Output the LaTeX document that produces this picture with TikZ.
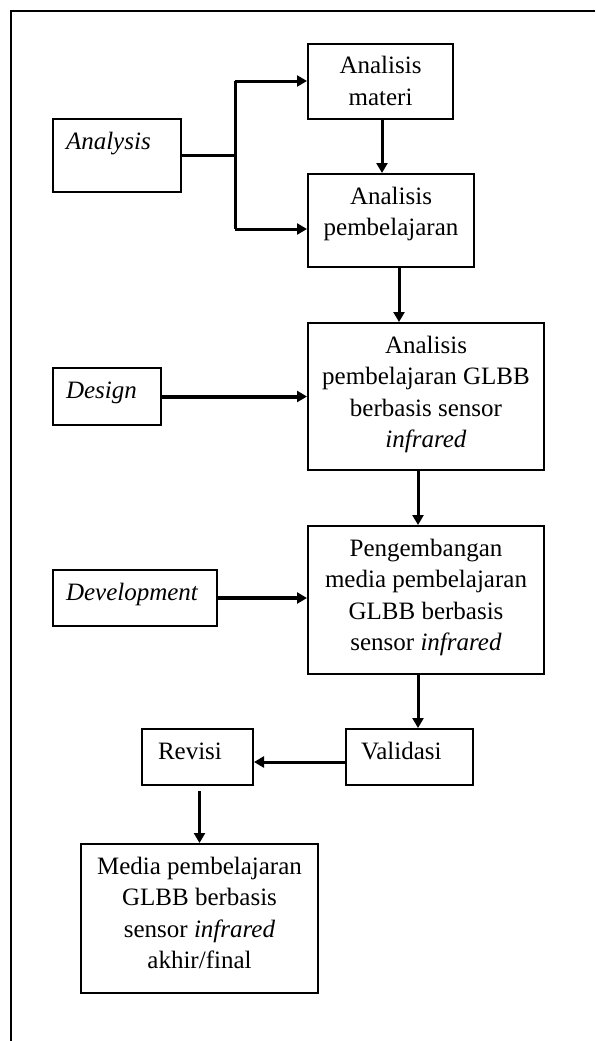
\documentclass[tikz,border=0pt]{standalone}
\usepackage{fontspec}
\setmainfont{Liberation Serif}
\usetikzlibrary{arrows.meta}
\newcommand{\tbx}[3]{\parbox[t][#2pt][t]{#1pt}{\fontsize{25}{31.5}\selectfont\rule{0pt}{30pt}#3}}
\tikzset{
  box/.style={draw, line width=2pt, inner sep=0pt, anchor=north west},
  arr/.style={line width=3pt, -{Triangle[length=10pt,width=11pt]}},
  plain/.style={line width=3pt},
}
\begin{document}
\begin{tikzpicture}[x=1pt,y=-1pt]
\useasboundingbox (0,0) rectangle (595,1041);
\draw[line width=2.5pt] (595,11) -- (11,11) -- (11,1041);

\node[box] (an) at (52,118) {\tbx{128}{73}{\hspace*{13pt}\textit{Analysis}}};
\node[box] (am) at (307,43) {\tbx{145}{75}{\centering Analisis\\materi}};
\node[box] (ap) at (307,173) {\tbx{166}{93}{\centering Analisis\\pembelajaran}};
\node[box] (ds) at (52,367) {\tbx{108}{57}{\hspace*{13pt}\textit{Design}}};
\node[box] (gl) at (307,322) {\tbx{236}{147}{\centering Analisis\\pembelajaran GLBB\\berbasis sensor\\\textit{infrared}}};
\node[box] (dv) at (52,569) {\tbx{164}{56}{\hspace*{13pt}\textit{Development}}};
\node[box] (pg) at (307,525) {\tbx{236}{148}{\centering Pengembangan\\media pembelajaran\\GLBB berbasis\\sensor \textit{infrared}}};
\node[box] (va) at (345,728) {\tbx{127}{56}{\hspace*{15pt}Validasi}};
\node[box] (rv) at (141,728) {\tbx{111}{56}{\hspace*{16pt}Revisi}};
\node[box] (md) at (80,843) {\tbx{237}{149}{\centering Media pembelajaran\\GLBB berbasis\\sensor \textit{infrared}\\akhir/final}};

\coordinate (br) at (235,155);
\draw[plain] (an.east |- br) -- (br);
\draw[plain] (235,81) -- (235,229);
\draw[arr] (235,81) -- (235,81 -| am.west);
\draw[arr] (235,229) -- (235,229 -| ap.west);
\draw[arr] ([xshift=1.5pt]am.south) -- ([xshift=1.5pt]am.south |- ap.north);
\draw[arr] ([xshift=8pt]ap.south) -- ([xshift=8pt]ap.south |- gl.north);
\draw[arr, line width=4pt] (ds.east) -- (ds.east -| gl.west);
\draw[arr] ([xshift=-8pt]gl.south) -- ([xshift=-8pt]gl.south |- pg.north);
\draw[arr, line width=3.5pt] (dv.east) -- (dv.east -| pg.west);
\draw[arr] ([xshift=-8pt]pg.south) -- ([xshift=-8pt]pg.south |- va.north);
\draw[arr] ([yshift=-5pt]va.west) -- ([yshift=-5pt]va.west -| rv.east);
\draw[arr, shorten <=5pt] ([xshift=2pt]rv.south) -- ([xshift=2pt]rv.south |- md.north);
\end{tikzpicture}
\end{document}
